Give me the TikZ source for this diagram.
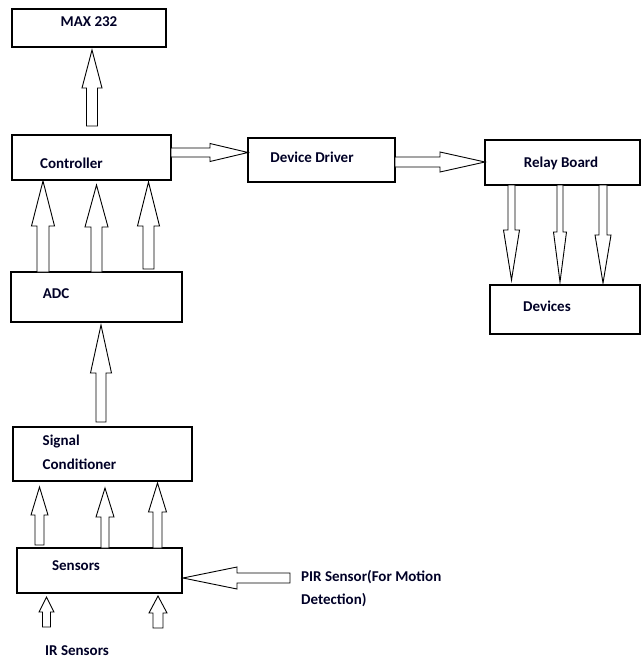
\documentclass[tikz,border=0pt]{standalone}
\usepackage{fontspec}
\setmainfont{Carlito}
\begin{document}
\begin{tikzpicture}[x=1pt,y=-1pt,
  box/.style={draw=black, line width=1.1pt, inner sep=0pt, fill=white},
  lbl/.style={font=\fontsize{15}{18}\selectfont\bfseries, inner sep=0pt, text=black!85!blue},
  blk/.style={draw=black, line width=0.9pt, fill=white, line join=miter}]
\useasboundingbox (0,0) rectangle (641,659);
% block arrow macros
\newcommand{\varr}[6]{% xc, ystart, ybase, ytip, shaft half, head half
  \draw[blk] ({#1-#5},#2) -- ({#1-#5},#3) -- ({#1-#6},#3) -- (#1,#4) -- ({#1+#6},#3) -- ({#1+#5},#3) -- ({#1+#5},#2) -- cycle;}
\newcommand{\harr}[6]{% yc, xstart, xbase, xtip, shaft half, head half
  \draw[blk] (#2,{#1-#5}) -- (#3,{#1-#5}) -- (#3,{#1-#6}) -- (#4,#1) -- (#3,{#1+#6}) -- (#3,{#1+#5}) -- (#2,{#1+#5}) -- cycle;}
% boxes
\node[box, minimum width=154pt, minimum height=38pt] (max) at (89,28) {};
\node[box, minimum width=159pt, minimum height=45pt] (ctrl) at (91.5,157.5) {};
\node[box, minimum width=147pt, minimum height=44pt] (drv) at (321.5,160) {};
\node[box, minimum width=155pt, minimum height=45pt] (relay) at (562.5,162.5) {};
\node[box, minimum width=150pt, minimum height=49pt] (dev) at (565,309.5) {};
\node[box, minimum width=171pt, minimum height=50pt] (adc) at (96.5,297) {};
\node[box, minimum width=179pt, minimum height=54pt] (sig) at (102.5,454) {};
\node[box, minimum width=165pt, minimum height=45pt] (sens) at (99.5,570.5) {};
% labels
\node[lbl] (tmax) at (89,22) {MAX 232};
\node[lbl] (tctrl) at (71.5,163) {Controller};
\node[lbl] (tdrv) at (312,157) {Device Driver};
\node[lbl] (trelay) at (561,163) {Relay Board};
\node[lbl] (tdev) at (547,306) {Devices};
\node[lbl] (tadc) at (56,294) {ADC};
\node[lbl, anchor=west] (tsig1) at (42.5,442) {Signal};
\node[lbl, anchor=west] (tsig2) at (42.5,464) {Conditioner};
\node[lbl] (tsens) at (76,566) {Sensors};
\node[lbl, anchor=west] (tpir1) at (301,577) {PIR Sensor(For Motion};
\node[lbl, anchor=west] (tpir2) at (301,600) {Detection)};
\node[lbl, anchor=west] (tir) at (45,651) {IR Sensors};
% arrows
\varr{92}{126}{88}{50}{5.5}{10}
\varr{43}{272}{226}{181}{6}{11.5}
\varr{96.5}{272}{227}{185}{5.5}{11.5}
\varr{148.5}{269}{226}{182}{5.5}{11}
\varr{101}{422}{373}{325}{5}{10.5}
\varr{39.5}{545}{515}{487}{4.5}{8.5}
\varr{105}{548}{517}{488}{4}{9}
\varr{157.5}{548}{512}{483}{4.5}{9}
\varr{46.5}{627}{612}{597}{4}{7.5}
\varr{158}{628}{613}{596}{5}{9}
\varr{511.5}{185}{230}{280}{3.5}{8}
\varr{560}{185}{232}{282}{3}{6.5}
\varr{603}{185}{235}{283}{4}{8}
\harr{152.5}{171}{210}{248}{4.5}{9}
\harr{162}{395}{440}{485}{5}{10}
\harr{578}{290}{237}{183}{5}{11}
\end{tikzpicture}
\end{document}
